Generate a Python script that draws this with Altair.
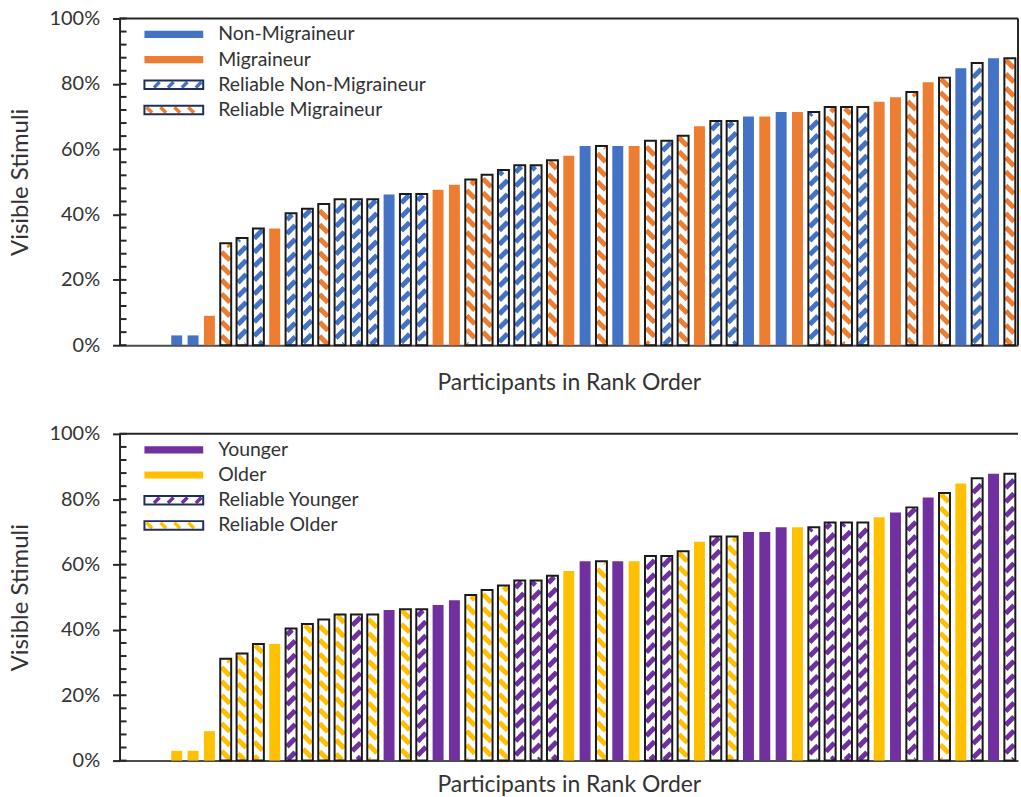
import altair as alt
import numpy as np
import pandas as pd

# ---------------------------------------------------------------------------
# Data: share of stimuli reported visible, participants sorted low -> high
# ---------------------------------------------------------------------------
visible = [3.0, 3.0, 9.0, 31.2, 32.8, 35.7, 35.7, 40.4, 41.8, 43.2,
           44.7, 44.7, 44.7, 46.1, 46.3, 46.3, 47.6, 49.1, 50.7, 52.2,
           53.6, 55.1, 55.1, 56.6, 58.0, 61.0, 61.0, 61.0, 61.0, 62.6,
           62.6, 64.1, 67.0, 68.6, 68.6, 70.0, 70.0, 71.4, 71.4, 71.4,
           72.9, 72.9, 72.9, 74.5, 75.9, 77.5, 80.5, 81.9, 84.8, 86.4,
           87.8, 87.8]
# 1 = participant passed the reliability check
reliable_flag = [0, 0, 0, 1, 1, 1, 0, 1, 1, 1,
                 1, 1, 1, 0, 1, 1, 0, 0, 1, 1,
                 1, 1, 1, 1, 0, 0, 1, 0, 0, 1,
                 1, 1, 0, 1, 1, 0, 0, 0, 0, 1,
                 1, 1, 1, 0, 0, 1, 0, 1, 0, 1,
                 0, 1]
# headache group of each ranked participant (N = non-migraineur, M = migraineur)
migraine_code = "NNMMNNMNNM" "NNNNNNMMMM" "NNNMMNMNMM" "NMMNNNMNMN" "MMNMMMMMNN" "NM"
# age group of each ranked participant (Y = younger, O = older)
age_code = "OOOOOOOYOO" "OYOYOYYYOO" "OYYYOYOYOY" "YOOYOYYYOY" "YYYOYYYOOY" "YY"
# lowest-ranked participants who saw none of the stimuli (empty slots)
n_zero = 3

migraine_names = {"N": "Non-Migraineur", "M": "Migraineur"}
age_names = {"Y": "Younger", "O": "Older"}
migraine_colors = ["#4472C4", "#ED7D31"]
age_colors = ["#7030A0", "#FFC000"]

# ---------------------------------------------------------------------------
# Layout
# ---------------------------------------------------------------------------
W, H = 902, 328
N_SLOTS = n_zero + len(visible)
SX = W / N_SLOTS          # px per rank slot
SY = H / 100.0            # px per percent
HALF = 0.335              # half bar width, in slots
PERIOD = 14.0             # hatch spacing, px
INSET = 1.3
FONT = "Lato"
TXT = "#333333"
AX = "#262626"

xs = alt.Scale(domain=[-0.5, N_SLOTS - 0.5], nice=False, zero=False)
ys = alt.Scale(domain=[0, 100], nice=False, zero=False)


def px_x(d):
    return (d + 0.5) * SX


def d_x(px):
    return px / SX - 0.5


def d_y(py):
    return py / SY


def hatch(x_lo, x_hi, y_lo, y_hi, rising):
    """Diagonal hatch segments (pixel space, y up) clipped to a rectangle."""
    segs = []
    if rising:
        c_min, c_max = y_lo - x_hi, y_hi - x_lo
    else:
        c_min, c_max = y_lo + x_lo, y_hi + x_hi
    c = np.ceil(c_min / PERIOD) * PERIOD
    while c < c_max:
        if rising:
            a = max(x_lo, y_lo - c)
            b = min(x_hi, y_hi - c)
            if b - a > 0.3:
                segs.append((a, a + c, b, b + c))
        else:
            a = max(x_lo, c - y_hi)
            b = min(x_hi, c - y_lo)
            if b - a > 0.3:
                segs.append((a, c - a, b, c - b))
        c += PERIOD
    return segs


def panel(codes, names, colors, title_pad, frame_right):
    keys = list(names.keys())
    domain = [names[k] for k in keys]
    color = alt.Color("group:N", scale=alt.Scale(domain=domain, range=colors), legend=None)

    rows = []
    for i, (v, f, g) in enumerate(zip(visible, reliable_flag, codes)):
        r = n_zero + i
        rows.append(dict(rank=r, lo=r - HALF, hi=r + HALF, value=v, base=0.0,
                         group=names[g], reliable=f, rising=(g == keys[0])))
    bars = pd.DataFrame(rows)

    # hatch segments for the reliable participants
    srows = []
    for _, b in bars[bars.reliable == 1].iterrows():
        for (x1, y1, x2, y2) in hatch(px_x(b.lo) + INSET, px_x(b.hi) - INSET,
                                      0.8, b.value * SY - INSET, b.rising):
            srows.append(dict(x1=d_x(x1), y1=d_y(y1), x2=d_x(x2), y2=d_y(y2), group=b.group))
    stripes = pd.DataFrame(srows)

    # legend (placed in the upper-left corner of the plot)
    leg_left, leg_right, leg_text = 25.0, 84.0, 99.0
    leg_rows = []
    for k, (label, key, hatched) in enumerate([
            (names[keys[0]], keys[0], 0), (names[keys[1]], keys[1], 0),
            ("Reliable " + names[keys[0]], keys[0], 1), ("Reliable " + names[keys[1]], keys[1], 1)]):
        cy = 16.0 + 25.3 * k
        half_h = 3.6 if not hatched else 4.3
        leg_rows.append(dict(label=label, group=names[key], hatched=hatched,
                             rising=(key == keys[0]),
                             x1=d_x(leg_left), x2=d_x(leg_right),
                             y1=d_y(H - cy - half_h), y2=d_y(H - cy + half_h),
                             tx=d_x(leg_text), ty=d_y(H - cy),
                             px1=leg_left, px2=leg_right,
                             py1=H - cy - half_h, py2=H - cy + half_h))
    legend = pd.DataFrame(leg_rows)
    lsrows = []
    for _, e in legend[legend.hatched == 1].iterrows():
        for (x1, y1, x2, y2) in hatch(e.px1 + 1.5, e.px2 - 1.5, e.py1 + 1.5, e.py2 - 1.5, e.rising):
            lsrows.append(dict(x1=d_x(x1), y1=d_y(y1), x2=d_x(x2), y2=d_y(y2), group=e.group))
    leg_stripes = pd.DataFrame(lsrows)

    minor = pd.DataFrame({"v": list(range(0, 101, 4))})

    x_axis = alt.Axis(title="Participants in Rank Order", ticks=False, labels=False, grid=False,
                      domainColor="#4d4d4d", domainWidth=2, titlePadding=title_pad,
                      titleFont=FONT, titleFontSize=23, titleFontWeight="normal", titleColor=TXT)
    y_axis = alt.Axis(title="Visible Stimuli", values=[0, 20, 40, 60, 80, 100],
                      labelExpr="datum.value + '%'", grid=False, tickSize=7, tickWidth=2,
                      tickColor=AX, domainColor=AX, domainWidth=2,
                      labelFont=FONT, labelFontSize=20, labelColor=TXT, labelPadding=13,
                      titleFont=FONT, titleFontSize=24, titleFontWeight="normal",
                      titleColor=TXT, titlePadding=17)

    def X(field):
        return alt.X(field, scale=xs, axis=x_axis)

    def Y(field):
        return alt.Y(field, scale=ys, axis=y_axis)

    solid = alt.Chart(bars).transform_filter("datum.reliable == 0").mark_rect().encode(
        x=X("lo:Q"), x2="hi:Q", y=Y("value:Q"), y2="base:Q", color=color)

    hatch_layer = alt.Chart(stripes).mark_rule(strokeWidth=5).encode(
        x=X("x1:Q"), x2="x2:Q", y=Y("y1:Q"), y2="y2:Q", color=color)

    outline = alt.Chart(bars).transform_filter("datum.reliable == 1").mark_rect(
        filled=False, stroke="#1a1a1a", strokeWidth=2).encode(
        x=X("lo:Q"), x2="hi:Q", y=Y("value:Q"), y2="base:Q")

    ticks_in = alt.Chart(minor).mark_rule(color=AX, strokeWidth=2).encode(
        x=alt.value(0), x2=alt.value(7), y=Y("v:Q"))

    frame = [alt.Chart(minor.head(1)).mark_rule(color=AX, strokeWidth=2).encode(
        x=alt.value(0), x2=alt.value(W), y=alt.value(0))]
    if frame_right:
        frame.append(alt.Chart(minor.head(1)).mark_rule(color=AX, strokeWidth=2).encode(
            x=alt.value(W), y=alt.value(0), y2=alt.value(H)))

    leg_solid = alt.Chart(legend).transform_filter("datum.hatched == 0").mark_rect().encode(
        x=X("x1:Q"), x2="x2:Q", y=Y("y1:Q"), y2="y2:Q", color=color)
    leg_hatch = alt.Chart(leg_stripes).mark_rule(strokeWidth=3.5).encode(
        x=X("x1:Q"), x2="x2:Q", y=Y("y1:Q"), y2="y2:Q", color=color)
    leg_box = alt.Chart(legend).transform_filter("datum.hatched == 1").mark_rect(
        filled=False, stroke="#1f3058", strokeWidth=2).encode(
        x=X("x1:Q"), x2="x2:Q", y=Y("y1:Q"), y2="y2:Q")
    leg_text = alt.Chart(legend).mark_text(
        align="left", baseline="middle", font=FONT, fontSize=19.5, color=TXT).encode(
        x=X("tx:Q"), y=Y("ty:Q"), text="label:N")

    return alt.layer(solid, hatch_layer, outline, ticks_in, *frame,
                     leg_solid, leg_hatch, leg_box, leg_text).properties(width=W, height=H)


top = panel(migraine_code, migraine_names, migraine_colors, title_pad=26, frame_right=True)
bottom = panel(age_code, age_names, age_colors, title_pad=13, frame_right=False)

chart = alt.vconcat(top, bottom, spacing=30).properties(
    padding={"left": 8, "top": 7, "right": 2, "bottom": 0}
).configure_view(strokeWidth=0).resolve_scale(color="independent")

chart.save("out.html", embed_options={"renderer": "svg", "actions": False})
